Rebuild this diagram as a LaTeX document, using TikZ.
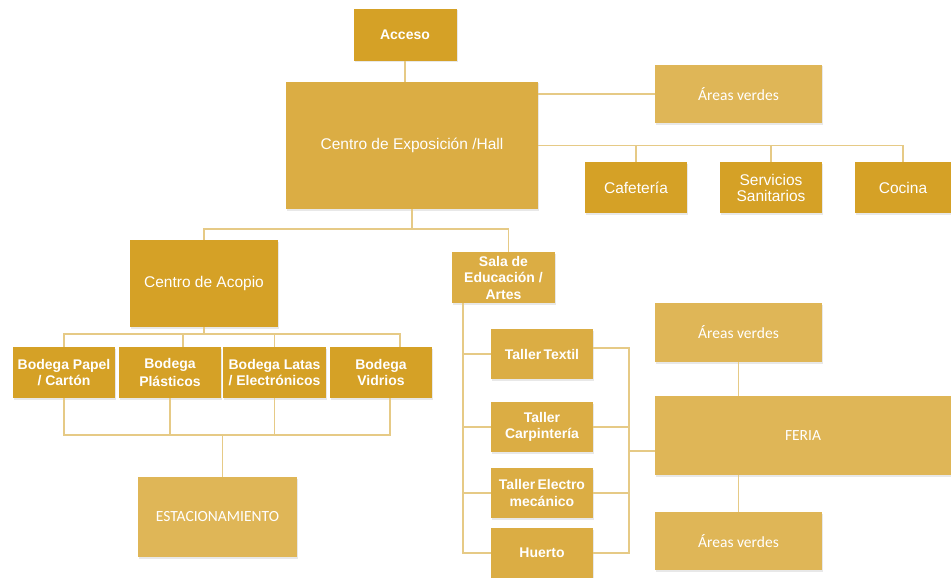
\documentclass[tikz,border=0pt]{standalone}
\usepackage{fontspec}
\setmainfont{Liberation Sans}
\newfontfamily\cbfont{Carlito}
\usetikzlibrary{positioning,shadows,calc}
\definecolor{golddark}{HTML}{D5A126}
\definecolor{goldmid}{HTML}{DBAD44}
\definecolor{goldlight}{HTML}{DFB657}
\definecolor{goldline}{HTML}{E6CA86}
\tikzset{
    areabox/.style 2 args={
        rectangle,minimum width=#1pt,minimum height=#2pt,inner sep=1pt,outer sep=0pt,
        text=white,align=center,
        drop shadow={opacity=0.18,shadow xshift=1pt,shadow yshift=-1.5pt}
    },
    darkbox/.style={fill=golddark,font=\fontsize{15.5}{16}\selectfont},
    midbox/.style={fill=goldmid,font=\fontsize{15.5}{16}\selectfont},
    boldbox/.style={font=\fontsize{14}{16.5}\selectfont\bfseries},
    lightbox/.style={fill=goldlight,font=\cbfont\fontsize{15.5}{17}\selectfont},
    link/.style={draw=goldline,line width=1.1pt}
}

\begin{document}
\begin{tikzpicture}[x=1pt,y=-1pt]
\useasboundingbox (0,0) rectangle (951,578);
% acceso y hall
\node[areabox={103}{52},darkbox,boldbox] (acceso) at (405,35) {Acceso};
\node[areabox={252}{127},midbox] (hall) at (412,145.5) {Centro de Exposición /Hall};
\node[areabox={167}{58},lightbox] (verdes1) at (738.5,94) {Áreas verdes};
\node[areabox={102}{51},darkbox] (cafe) at (636,187.5) {Cafetería};
\node[areabox={102}{51},darkbox] (sanit) at (771,187.5) {Servicios\\Sanitarios};
\node[areabox={96}{51},darkbox] (cocina) at (903,187.5) {Cocina};
% centro de acopio
\node[areabox={148}{87},darkbox] (acopio) at (204,283.5) {Centro de Acopio};
\node[areabox={102}{51},darkbox,boldbox] (papel) at (64,372.5) {Bodega Papel\\/ Cartón};
\node[areabox={102}{51},darkbox,boldbox] (plast) at (170,372.5) {Bodega\\[2pt]Plásticos};
\node[areabox={103}{51},darkbox,boldbox] (latas) at (274.5,372.5) {Bodega Latas\\/ Electrónicos};
\node[areabox={102}{51},darkbox,boldbox] (vidrios) at (381,372.5) {Bodega\\Vidrios};
\node[areabox={159}{80},lightbox] (estac) at (217.5,517) {ESTACIONAMIENTO};
% sala y talleres
\node[areabox={103}{51},midbox,boldbox] (sala) at (503.5,277.5) {Sala de\\Educación /\\Artes};
\node[areabox={102}{50},midbox,boldbox] (textil) at (542,354) {Taller\,Textil};
\node[areabox={102}{50},midbox,boldbox] (carp) at (542,427) {Taller\\Carpintería};
\node[areabox={102}{50},midbox,boldbox] (electro) at (542,493) {Taller\,Electro\\mecánico};
\node[areabox={102}{50},midbox,boldbox] (huerto) at (542,553) {Huerto};
% feria
\node[areabox={167}{59},lightbox] (verdes2) at (738.5,332.5) {Áreas verdes};
\node[areabox={296}{79},lightbox] (feria) at (803,435.5) {FERIA};
\node[areabox={167}{58},lightbox] (verdes3) at (738.5,541) {Áreas verdes};

\coordinate (hallbus) at (412,229);
\coordinate (topbus) at (0,334);
\coordinate (lowbus) at (0,435);
\coordinate (spine) at (463,0);
\coordinate (bracket) at (629,0);

\draw[link] (acceso.south) -- (acceso.south |- hall.north);
\draw[link] (hall.east |- verdes1.west) -- (verdes1.west);
\draw[link] (hall.east) -- (cocina.north |- hall.east) -- (cocina.north);
\draw[link] (cafe.north) -- (cafe.north |- hall.east);
\draw[link] (sanit.north) -- (sanit.north |- hall.east);

\draw[link] (hall.south) -- (hall.south |- hallbus);
\draw[link] (acopio.north) |- (hallbus) -| ([xshift=5pt]sala.north);

\draw[link] (acopio.south) -- (acopio.south |- topbus);
\draw[link] (papel.north) -- (papel.north |- topbus) -- ([xshift=19pt]vidrios.north |- topbus) -- ([xshift=19pt]vidrios.north);
\draw[link] ([xshift=13pt]plast.north) -- ([xshift=13pt]plast.north |- topbus);
\draw[link] (latas.north) -- (latas.north |- topbus);

\draw[link] (papel.south) -- (papel.south |- lowbus) -- ([xshift=9pt]vidrios.south |- lowbus) -- ([xshift=9pt]vidrios.south);
\draw[link] (plast.south) -- (plast.south |- lowbus);
\draw[link] (latas.south) -- (latas.south |- lowbus);
\draw[link] ([xshift=5pt]estac.north |- lowbus) -- ([xshift=5pt]estac.north);

\draw[link] (spine |- sala.south) -- (spine |- huerto.west) -- (huerto.west);
\draw[link] (spine |- textil.west) -- (textil.west);
\draw[link] (spine |- carp.west) -- (carp.west);
\draw[link] (spine |- electro.west) -- (electro.west);

\draw[link] ([yshift=6pt]textil.east) -- ([yshift=6pt]bracket |- textil.east) -- (bracket |- huerto.east) -- (huerto.east);
\draw[link] (carp.east) -- (bracket |- carp.east);
\draw[link] (electro.east) -- (bracket |- electro.east);
\draw[link] ([yshift=-15.5pt]bracket |- feria.west) -- ([yshift=-15.5pt]feria.west);

\draw[link] (verdes2.south) -- (verdes2.south |- feria.north);
\draw[link] (feria.south -| verdes3.north) -- (verdes3.north);
\end{tikzpicture}
\end{document}
